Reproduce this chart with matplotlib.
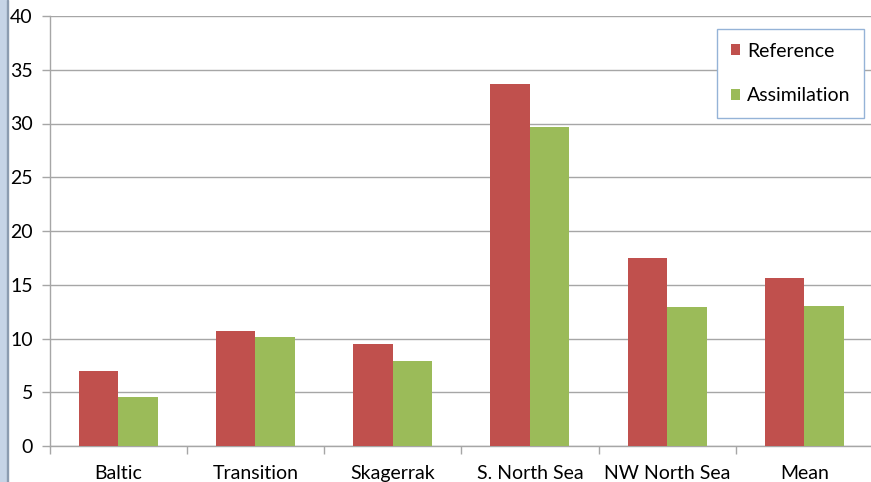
import numpy as np
import matplotlib.pyplot as plt
from matplotlib.patches import Rectangle
from matplotlib.ticker import FixedLocator

plt.rcParams['font.family'] = ['Lato', 'DejaVu Sans']

# Данные
regions = ['Baltic', 'Transition', 'Skagerrak', 'S. North Sea', 'NW North Sea', 'Mean']
reference = [7.0, 10.7, 9.5, 33.7, 17.5, 15.6]
assimilation = [4.55, 10.1, 7.95, 29.7, 12.95, 13.05]

red = '#C0504D'
green = '#9BBB59'
grid_col = '#A6A6A6'

fig = plt.figure(figsize=(8.71, 4.82), dpi=100)
ax = fig.add_axes([49.5 / 871, 1 - 446 / 482, 823.5 / 871, 430 / 482])

x = np.arange(len(regions))
w = 0.288
ax.bar(x - w / 2, reference, w, color=red, label='Reference', zorder=3)
ax.bar(x + w / 2, assimilation, w, color=green, label='Assimilation', zorder=3)

ax.set_xlim(-0.5, len(regions) - 0.5)
ax.set_ylim(0, 40)
ax.set_yticks(np.arange(0, 41, 5))
ax.yaxis.grid(True, color=grid_col, linewidth=1.0, zorder=0)
ax.set_axisbelow(True)

ax.set_xticks(x)
ax.set_xticklabels(regions, fontsize=14)
ax.xaxis.set_minor_locator(FixedLocator(np.arange(-0.5, len(regions), 1.0)))
ax.tick_params(axis='x', which='major', length=0, pad=14)
ax.tick_params(axis='x', which='minor', length=6, color=grid_col, width=1)
ax.tick_params(axis='y', length=6, color=grid_col, width=1, pad=6, labelsize=14)

for s in ['top', 'right']:
    ax.spines[s].set_visible(False)
for s in ['left', 'bottom']:
    ax.spines[s].set_color(grid_col)
    ax.spines[s].set_linewidth(1.0)

leg = ax.legend(loc='upper left', bbox_to_anchor=(717 / 871, 1 - 29 / 482),
                bbox_transform=fig.transFigure, fontsize=14, frameon=True,
                fancybox=False, edgecolor='#95B3D7', labelspacing=1.42,
                handlelength=0.47, handleheight=0.47, handletextpad=0.36,
                borderpad=0.7, borderaxespad=0)
leg.get_frame().set_linewidth(1.0)
leg.get_frame().set_alpha(1.0)

# полоска слева
fig.patches.append(Rectangle((0, 0), 7 / 871, 1, transform=fig.transFigure,
                             color='#C6D4E6', zorder=-5))
fig.patches.append(Rectangle((7 / 871, 0), 1.2 / 871, 1, transform=fig.transFigure,
                             color='#8C9CB0', zorder=-5))

fig.savefig('out.png', dpi=100)
